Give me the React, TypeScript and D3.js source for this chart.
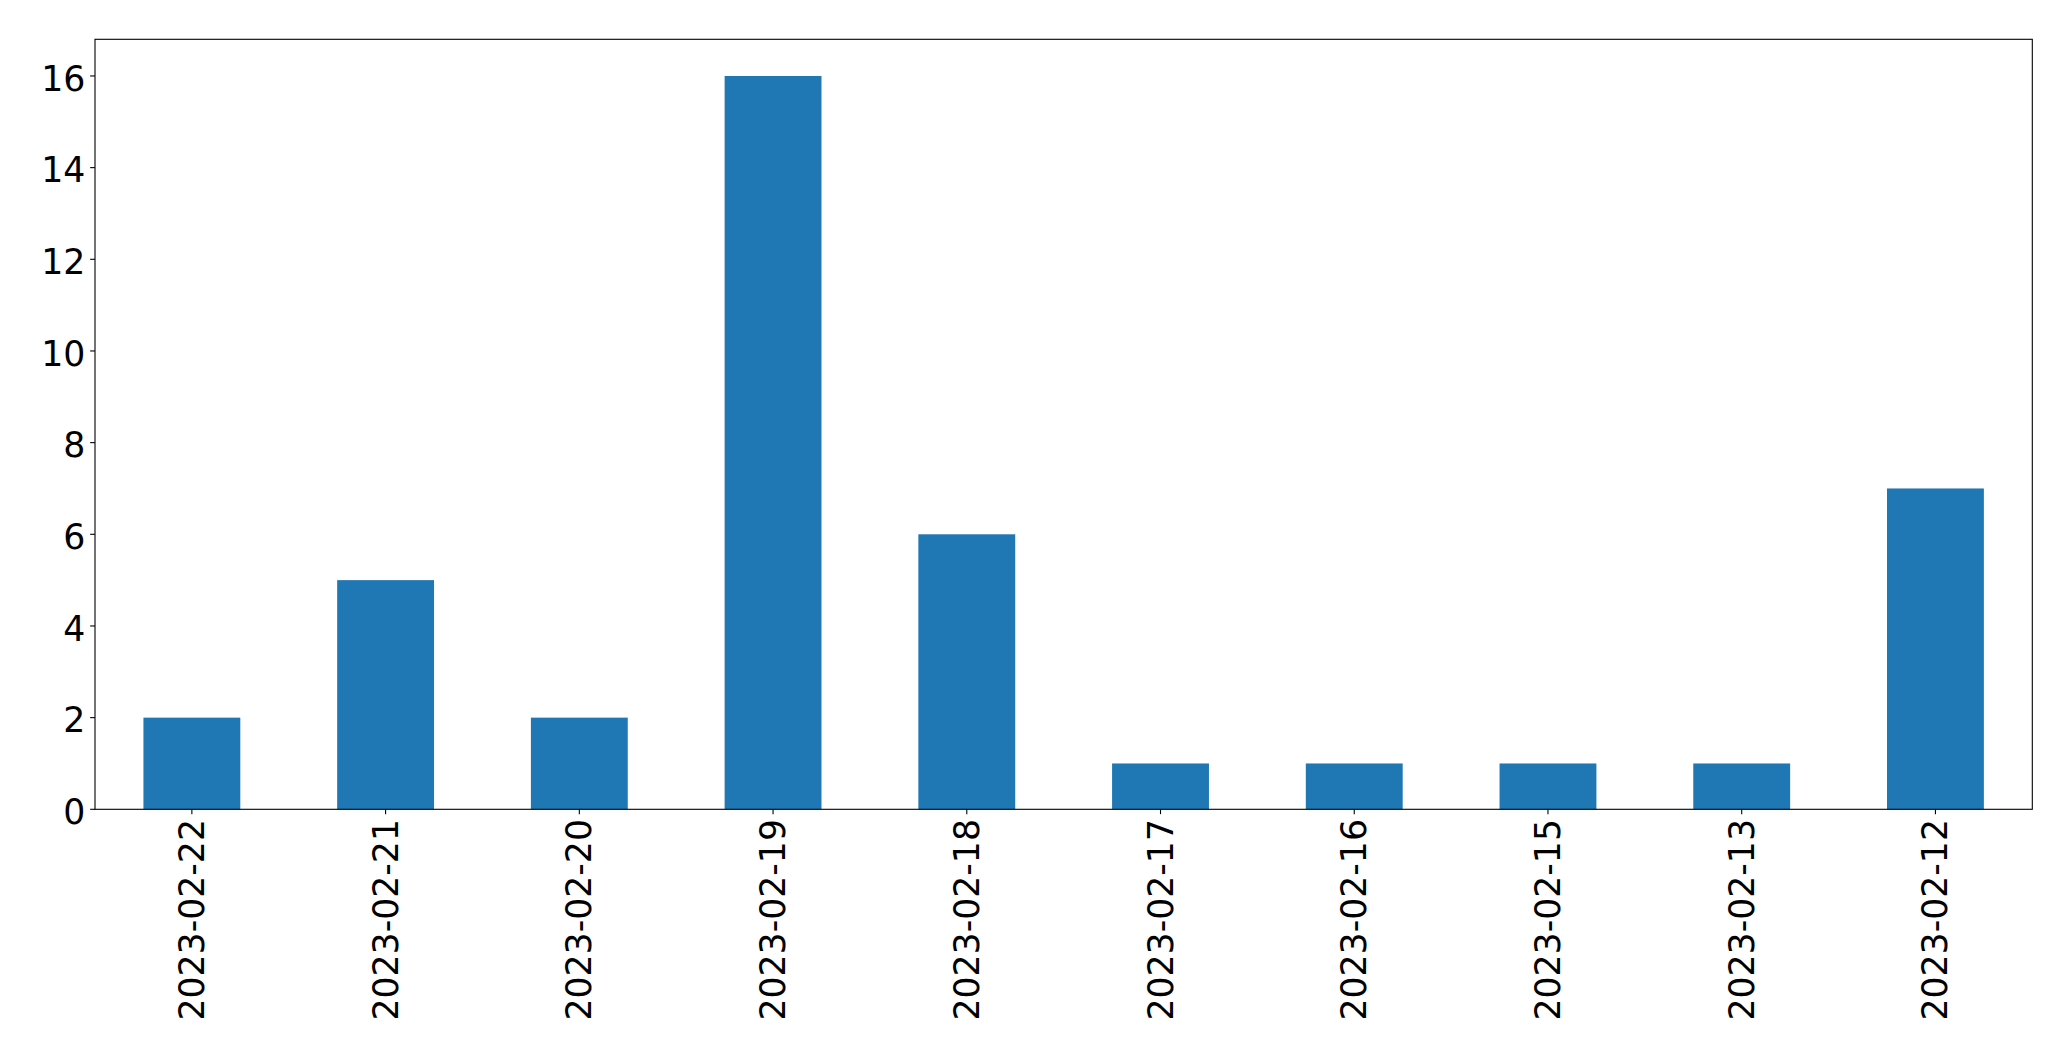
import React from "react";
import * as d3 from "d3";

const categories = [
  "2023-02-22",
  "2023-02-21",
  "2023-02-20",
  "2023-02-19",
  "2023-02-18",
  "2023-02-17",
  "2023-02-16",
  "2023-02-15",
  "2023-02-13",
  "2023-02-12",
];
const counts = [2, 5, 2, 16, 6, 1, 1, 1, 1, 7];
const yTicks = [0, 2, 4, 6, 8, 10, 12, 14, 16];

const W = 2071;
const H = 1061;
const left = 95;
const right = 2032.3;
const top = 39.3;
const bottom = 809.3;
const FONT = "'DejaVu Sans', sans-serif";
const FS = 34.7;
const TICK = 4.86;
const PAD = 4.86;

export default function App() {
  const x = d3
    .scaleBand<string>()
    .domain(categories)
    .range([left, right])
    .paddingInner(0.5)
    .paddingOuter(0.25);
  const y = d3.scaleLinear().domain([0, 16.8]).range([bottom, top]);

  return (
    <div style={{ position: "absolute", left: 0, top: 0 }}>
      <svg width={W} height={H} style={{ display: "block", background: "#fff" }}>
        <rect x={0} y={0} width={W} height={H} fill="#fff" />
        {categories.map((c, i) => (
          <rect
            key={c}
            x={x(c)!}
            y={y(counts[i])}
            width={x.bandwidth()}
            height={y(0) - y(counts[i])}
            fill="#1f77b4"
          />
        ))}
        <rect
          x={left}
          y={top}
          width={right - left}
          height={bottom - top}
          fill="none"
          stroke="#000"
          strokeWidth={1.1}
        />
        {yTicks.map((t) => (
          <g key={t}>
            <line x1={left - TICK} x2={left} y1={y(t)} y2={y(t)} stroke="#000" strokeWidth={1.1} />
            <text
              x={left - TICK - PAD}
              y={y(t) + 14.6}
              textAnchor="end"
              fontFamily={FONT}
              fontSize={FS}
              fill="#000"
            >
              {t}
            </text>
          </g>
        ))}
        {categories.map((c) => {
          const cx = x(c)! + x.bandwidth() / 2;
          return (
            <g key={c}>
              <line x1={cx} x2={cx} y1={bottom} y2={bottom + TICK} stroke="#000" strokeWidth={1.1} />
              <text
                transform={`translate(${cx},${bottom + TICK + PAD}) rotate(-90)`}
                textAnchor="end"
                dy="0.346em"
                fontFamily={FONT}
                fontSize={FS}
                fill="#000"
              >
                {c}
              </text>
            </g>
          );
        })}
      </svg>
    </div>
  );
}
